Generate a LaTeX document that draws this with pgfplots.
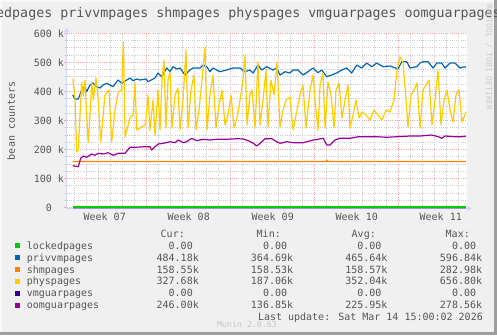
\documentclass[border=0pt]{standalone}
\usepackage{pgfplots}
\pgfplotsset{compat=1.18}
\usepackage{pgfplotstable}
\usepackage{fontspec}
\setmainfont{DejaVu Sans Mono}
\usetikzlibrary{arrows.meta}
\definecolor{bg}{HTML}{F0F0F0}
\definecolor{fontc}{HTML}{555555}
\definecolor{axisc}{HTML}{CFD6F8}
\definecolor{mgrid}{HTML}{F2A8A8}
\definecolor{ngrid}{HTML}{CCCCCC}
\definecolor{cLocked}{HTML}{00CC00}
\definecolor{cPriv}{HTML}{0066B3}
\definecolor{cShm}{HTML}{FF8000}
\definecolor{cPhys}{HTML}{FFCC00}
\definecolor{cVmg}{HTML}{330099}
\definecolor{cOom}{HTML}{990099}
\newcommand\fs{\fontsize{10bp}{12bp}\selectfont}

% x = days since start of week 07, y = thousands
\pgfplotstableread{
x y
0.833 387.4
1.025 373.7
1.30 373.7
1.583 404.7
1.858 416.0
2.0 398.8
2.275 421.9
2.525 428.8
2.833 416.0
3.108 411.6
3.358 421.9
3.667 427.7
3.942 421.9
4.192 416.0
4.608 439.1
4.917 427.7
5.333 439.1
5.608 446.0
5.858 436.7
6.167 442.6
6.442 439.1
6.942 442.6
7.108 433.3
7.692 446.0
7.942 463.2
8.25 450.5
8.667 480.4
8.942 467.7
9.192 484.9
9.5 477.0
9.775 480.4
10.19 456.3
10.61 473.6
10.86 480.4
11.44 480.4
11.69 490.7
12.0 484.9
12.275 467.7
12.525 480.4
13.108 467.7
13.667 473.6
14.19 480.4
14.775 480.4
15.19 467.7
15.61 473.6
15.86 463.2
16.275 490.7
16.583 473.6
17.0 484.9
17.525 473.6
17.833 480.4
18.108 456.3
18.525 467.7
18.942 463.2
19.19 473.6
19.608 473.6
20.025 456.3
20.44 467.7
20.86 480.4
21.275 464.3
21.583 473.6
22.0 450.5
22.42 456.3
22.83 463.2
23.25 473.6
23.67 480.4
24.08 463.2
24.5 490.7
24.92 480.4
25.33 497.6
25.75 484.9
26.17 497.6
26.69 484.9
27.275 487.3
27.94 477.0
28.25 502.1
28.67 502.1
28.94 480.4
29.5 484.9
29.775 497.6
30.025 502.1
30.44 502.1
30.86 480.4
31.17 497.6
31.58 497.6
31.86 480.4
32.275 497.6
32.69 497.6
33.108 480.4
33.36 483.9
33.61 484.2
}\privtab

\pgfplotstableread{
x y
0.833 442.6
1.025 380.6
1.167 191.1
1.3 198.0
1.442 318.6
1.583 432.2
1.717 384.0
1.858 439.1
2.0 311.7
2.133 225.6
2.275 318.6
2.417 432.2
2.55 370.2
2.775 446.0
2.942 380.6
3.167 225.6
3.358 311.7
3.525 387.4
3.858 404.7
4.083 225.6
4.358 335.8
4.633 397.8
4.917 404.7
5.05 570.0
5.15 380.6
5.192 242.8
5.608 308.2
5.858 318.6
6.025 428.8
6.167 266.9
6.858 284.1
6.942 301.4
7.108 387.5
7.275 266.9
7.525 370.2
7.692 249.7
7.942 404.7
8.108 266.9
8.275 439.1
8.442 508.0
8.608 273.8
8.775 439.1
8.942 466.7
9.108 273.8
9.358 387.5
9.608 411.6
9.775 266.9
10.025 370.2
10.275 542.4
10.442 273.8
10.692 404.7
10.942 456.3
11.108 266.9
11.358 335.8
11.608 439.1
11.858 552.8
12.025 266.9
12.275 387.5
12.525 456.3
12.775 273.8
13.025 353.0
13.275 404.7
13.525 284.1
13.775 318.6
14.025 387.5
14.275 273.8
14.525 308.2
14.775 370.2
15.025 439.1
15.192 525.2
15.358 284.1
15.608 387.5
15.775 404.7
16.025 273.8
16.275 501.1
16.442 284.1
16.692 370.2
16.942 473.6
17.108 277.2
17.358 439.1
17.608 387.5
17.858 501.1
18.108 277.2
18.358 335.8
18.608 370.2
18.942 380.6
19.192 266.9
19.525 335.8
19.775 387.5
20.025 421.9
20.275 273.8
20.608 404.7
20.858 456.3
21.025 370.2
21.275 266.9
21.442 421.9
21.692 463.2
21.858 273.8
22.108 432.2
22.358 387.5
22.608 273.8
22.775 404.7
23.025 428.8
23.275 308.2
23.525 370.2
23.775 421.9
23.942 273.8
24.192 318.6
24.442 370.2
24.692 308.2
24.942 328.9
25.275 318.6
25.608 301.4
25.942 335.8
26.275 318.6
26.608 301.4
26.942 335.8
27.275 328.9
27.608 370.2
27.858 473.6
28.108 518.3
28.358 501.1
28.608 370.2
28.775 277.2
29.025 387.5
29.275 404.7
29.525 428.8
29.775 273.8
30.025 404.7
30.275 421.9
30.525 439.1
30.775 284.1
31.025 370.2
31.275 473.6
31.525 284.1
31.775 370.2
32.025 404.7
32.275 335.8
32.525 294.5
32.775 387.5
33.025 404.7
33.275 294.5
33.608 328.9
}\phystab

\pgfplotstableread{
x y
0.833 144.0
1.30 140.5
1.5 169.4
1.717 177.4
2.0 172.9
2.417 184.3
2.692 179.8
2.967 186.7
3.383 184.3
3.8 188.7
4.217 179.8
4.633 186.7
5.192 186.7
5.608 207.3
6.025 207.3
6.858 209.4
7.275 209.4
7.417 198.0
7.692 209.4
7.967 218.7
8.383 221.1
8.942 226.6
9.358 223.2
9.633 232.5
10.05 223.2
10.33 226.6
10.75 238.3
11.167 230.1
11.717 234.9
12.275 232.5
12.833 234.9
13.667 234.9
14.5 236.9
15.05 235.9
15.467 230.1
15.883 221.1
16.167 211.8
16.442 221.1
16.858 236.9
17.417 236.9
17.833 226.6
18.108 221.1
18.667 226.6
19.217 223.2
20.05 223.2
20.883 232.5
21.717 238.3
22.0 215.3
22.275 215.3
22.692 232.5
23.108 238.3
23.942 238.3
24.633 243.8
25.333 243.8
26.167 243.8
27.0 241.8
27.833 243.8
28.942 246.2
29.775 246.2
30.75 249.7
31.3 243.8
31.583 238.3
31.858 246.2
32.692 243.8
33.25 243.8
33.608 246.0
}\oomtab

\pgfplotstableread{
x y
0.833 158.55
21.95 158.55
22.0 164.0
22.05 158.55
33.608 158.55
}\shmtab

\pgfplotstableread{
x y
0.833 0
33.608 0
}\zerotab

\begin{document}
\begin{tikzpicture}[x=1bp,y=1bp]
\fill[bg] (0,0) rectangle (497,335);
\fill[white!60!bg] (0,0) rectangle (2,335);
\fill[white!60!bg] (0,333) rectangle (497,335);
\fill[black!38] (494,0) rectangle (497,335);
\fill[black!38] (0,0) rectangle (497,3);

\begin{axis}[
  at={(66.7bp,126.5bp)}, anchor=south west,
  scale only axis, width=400.3bp, height=175.2bp,
  xmin=0.333, xmax=33.69, ymin=-3.444, ymax=600,
  axis background/.style={fill=white},
  axis lines=left,
  axis line style={draw=axisc, line width=1bp},
  x axis line style={-{Triangle[length=4bp,width=5bp]}, shorten >=-4.5bp},
  y axis line style={-{Triangle[length=4bp,width=5bp]}, shorten >=-5.5bp},
  xtick={3.5,10.5,17.5,24.5,31.5},
  xticklabels={Week 07,Week 08,Week 09,Week 10,Week 11},
  x tick style={draw=none},
  minor xtick={1,...,33},
  xminorgrids=true,
  extra x ticks={7,14,21,28},
  extra x tick labels={},
  extra x tick style={grid=major, tick style={draw=mgrid, line width=0.8bp}},
  ytick={0,100,...,600},
  yticklabels={0\phantom{ k},100 k,200 k,300 k,400 k,500 k,600 k},
  minor ytick={25,50,...,575},
  ymajorgrids=true, yminorgrids=true,
  y tick style={draw=mgrid, line width=0.8bp},
  minor tick style={draw=ngrid, line width=0.6bp},
  tick align=outside, major tick length=2.5bp, minor tick length=2bp,
  major grid style={draw=mgrid, line width=0.8bp, dash pattern=on 1bp off 1.2bp},
  minor grid style={draw=ngrid, line width=0.7bp, dash pattern=on 1bp off 1.2bp},
  ticklabel style={font=\fs, text=fontc},
  yticklabel style={anchor=east, inner sep=0pt},
  xticklabel style={anchor=base, inner sep=0pt, yshift=-9bp},
  ylabel={bean counters},
  ylabel style={font=\fs, text=fontc, at={(axis description cs:-0.139,0.5)}, anchor=center, rotate=0},
  every axis plot/.append style={line width=1.2bp, line join=round},
  clip=false,
]
\addplot[cVmg, line width=0.9bp, opacity=0.3, yshift=-1.0bp] table {\zerotab};
\addplot[cLocked, line width=1.3bp, yshift=0.6bp] table {\zerotab};
\addplot[cPriv] table {\privtab};
\addplot[cShm] table {\shmtab};
\addplot[cPhys] table {\phystab};
\addplot[cOom] table {\oomtab};
\end{axis}

\node[anchor=base west, inner sep=0pt, font=\fontsize{13.3bp}{16bp}\selectfont, text=fontc] at (-36,{335-17.5}) {lockedpages privvmpages shmpages physpages vmguarpages oomguarpages};
\node[rotate=-90, inner sep=0pt, font=\fontsize{8bp}{9bp}\selectfont, text=black!20] at (489,{335-57.5}) {RRDTOOL / TOBI OETIKER};

\begin{scope}[every node/.style={inner sep=0pt, font=\fs, text=fontc}]
\node[anchor=base east] at (185,{335-237.2}) {Cur:};
\node[anchor=base east] at (281,{335-237.2}) {Min:};
\node[anchor=base east] at (376,{335-237.2}) {Avg:};
\node[anchor=base east] at (470,{335-237.2}) {Max:};
\foreach \c/\n/\a/\b/\d/\e [count=\i] in {
  cLocked/lockedpages/0.00\phantom{k}/0.00\phantom{k}/0.00\phantom{k}/0.00\phantom{k},
  cPriv/privvmpages/484.18k/364.69k/465.64k/596.84k,
  cShm/shmpages/158.55k/158.53k/158.57k/282.98k,
  cPhys/physpages/327.68k/187.06k/352.04k/656.80k,
  cVmg/vmguarpages/0.00\phantom{k}/0.00\phantom{k}/0.00\phantom{k}/0.00\phantom{k},
  cOom/oomguarpages/246.00k/136.85k/225.95k/278.56k}{
  \pgfmathsetmacro\yy{335-(245.8+(\i-1)*11.9)}
  \node[anchor=center] at (17.5,\yy) {\textcolor{\c}{\rule{5.2bp}{5.2bp}}};
  \node[anchor=base west] at (26.7,\yy-3.4) {\n};
  \node[anchor=base east] at (199,\yy-3.4) {\a};
  \node[anchor=base east] at (293.3,\yy-3.4) {\b};
  \node[anchor=base east] at (387.7,\yy-3.4) {\d};
  \node[anchor=base east] at (482.3,\yy-3.4) {\e};
}
\node[anchor=base east] at (483,{335-320.5}) {Last update: Sat Mar 14 15:00:02 2026};
\node[anchor=base, font=\fontsize{8.3bp}{9bp}\selectfont, text=black!22] at (247,{335-327}) {Munin 2.0.63};
\end{scope}
\pgfresetboundingbox
\path[use as bounding box] (0,0) rectangle (497,335);
\end{tikzpicture}
\end{document}
